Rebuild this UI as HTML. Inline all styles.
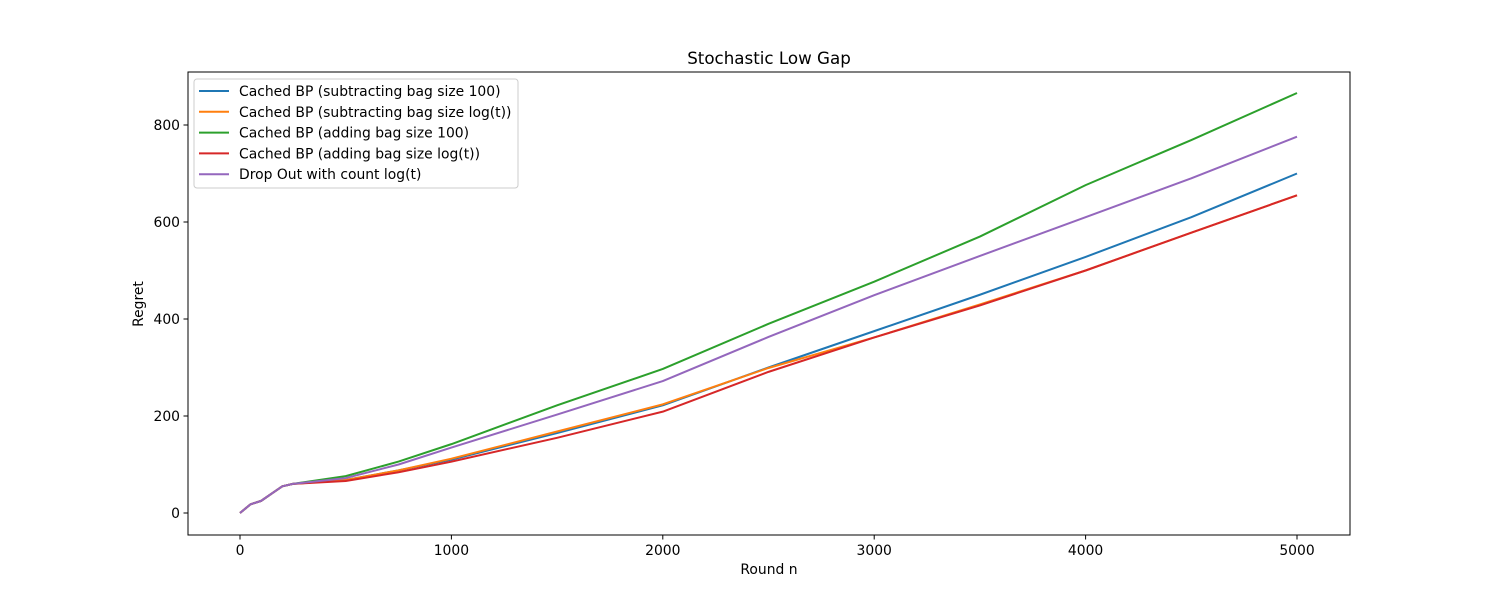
<!DOCTYPE html>
<html><head><meta charset="utf-8"><style>body{margin:0;background:#fff}svg{display:block;font-family:"DejaVu Sans","Liberation Sans",sans-serif}</style></head>
<body>
<svg id="chart" width="1500" height="600">
<rect x="0" y="0" width="1500" height="600" fill="#fff"/>
<text x="769" y="64" font-size="16.7" text-anchor="middle">Stochastic Low Gap</text>
<g id="ticks"></g>
<g id="lines"></g>
<rect x="188" y="72" width="1162" height="463" fill="none" stroke="#000" stroke-width="1"/>
<text x="769" y="574" font-size="13.9" text-anchor="middle">Round n</text>
<text x="143" y="304" font-size="13.9" text-anchor="middle" transform="rotate(-90 143 304)">Regret</text>
<g id="legend">
<rect x="194" y="79" width="324" height="109" rx="3" fill="#fff" stroke="#ccc"/>
</g>
</svg>
<script>
const xs=[0,50,100,150,200,250,500,750,1000,1500,2000,2500,3000,3500,4000,4500,5000];
const blue=[0,18,25,40,55,60,68,88,110,165,222,300,375,450,528,610,700];
const orange=[0,18,25,40,55,60,68,88,112,168,224,299,362,430,500,578,655];
const green=[0,18,25,40,55,60,76,106,142,222,297,390,477,570,676,769,866];
const red=[0,18,25,40,55,60,66,84,106,155,209,291,362,428,500,578,655];
const purple=[0,18,25,40,55,60,72,100,135,203,272,363,449,530,610,690,776];
const xTicks=[0,1000,2000,3000,4000,5000];
const yTicks=[0,200,400,600,800];
const names=["Cached BP (subtracting bag size 100)","Cached BP (subtracting bag size log(t))","Cached BP (adding bag size 100)","Cached BP (adding bag size log(t))","Drop Out with count log(t)"];
const series=[blue,orange,green,red,purple];
const colors=["#1f77b4","#ff7f0e","#2ca02c","#d62728","#9467bd"];
const keys=["blue","orange","green","red","purple"];
const NS="http://www.w3.org/2000/svg";
const X=v=>240+v*(1297-240)/5000;
const Y=v=>513-v*(513-125)/800;
const tg=document.getElementById('ticks');
xTicks.forEach(t=>{
 const l=document.createElementNS(NS,'line');l.setAttribute('x1',X(t));l.setAttribute('x2',X(t));l.setAttribute('y1',535);l.setAttribute('y2',539.5);l.setAttribute('stroke','#000');
 
 
 tg.appendChild(l);
 const tx=document.createElementNS(NS,'text');tx.setAttribute('x',X(t));tx.setAttribute('y',555);tx.setAttribute('font-size','13.9');tx.setAttribute('text-anchor','middle');tx.textContent=t;
 
 
 tg.appendChild(tx);
});
yTicks.forEach(t=>{
 const l=document.createElementNS(NS,'line');l.setAttribute('x1',183.5);l.setAttribute('x2',188);l.setAttribute('y1',Y(t));l.setAttribute('y2',Y(t));l.setAttribute('stroke','#000');
 
 
 tg.appendChild(l);
 const tx=document.createElementNS(NS,'text');tx.setAttribute('x',180);tx.setAttribute('y',Y(t)+5);tx.setAttribute('font-size','13.9');tx.setAttribute('text-anchor','end');tx.textContent=t;
 
 
 tg.appendChild(tx);
});
const lg=document.getElementById('lines');
const leg=document.getElementById('legend');
series.forEach((s,i)=>{
 const p=document.createElementNS(NS,'polyline');
 p.setAttribute('points',s.map((v,j)=>X(xs[j])+','+Y(v)).join(' '));
 p.setAttribute('fill','none');p.setAttribute('stroke',colors[i]);p.setAttribute('stroke-width','2');p.setAttribute('stroke-linejoin','round');
 
 
 lg.appendChild(p);
 const y=91+i*20.8;
 const l=document.createElementNS(NS,'line');l.setAttribute('x1',199);l.setAttribute('x2',229);l.setAttribute('y1',y);l.setAttribute('y2',y);l.setAttribute('stroke',colors[i]);l.setAttribute('stroke-width','2');
 
 
 leg.appendChild(l);
 const tx=document.createElementNS(NS,'text');tx.setAttribute('x',239);tx.setAttribute('y',y+5);tx.setAttribute('font-size','13.9');tx.textContent=names[i];
 
 
 leg.appendChild(tx);
});
</script>
</body></html>
